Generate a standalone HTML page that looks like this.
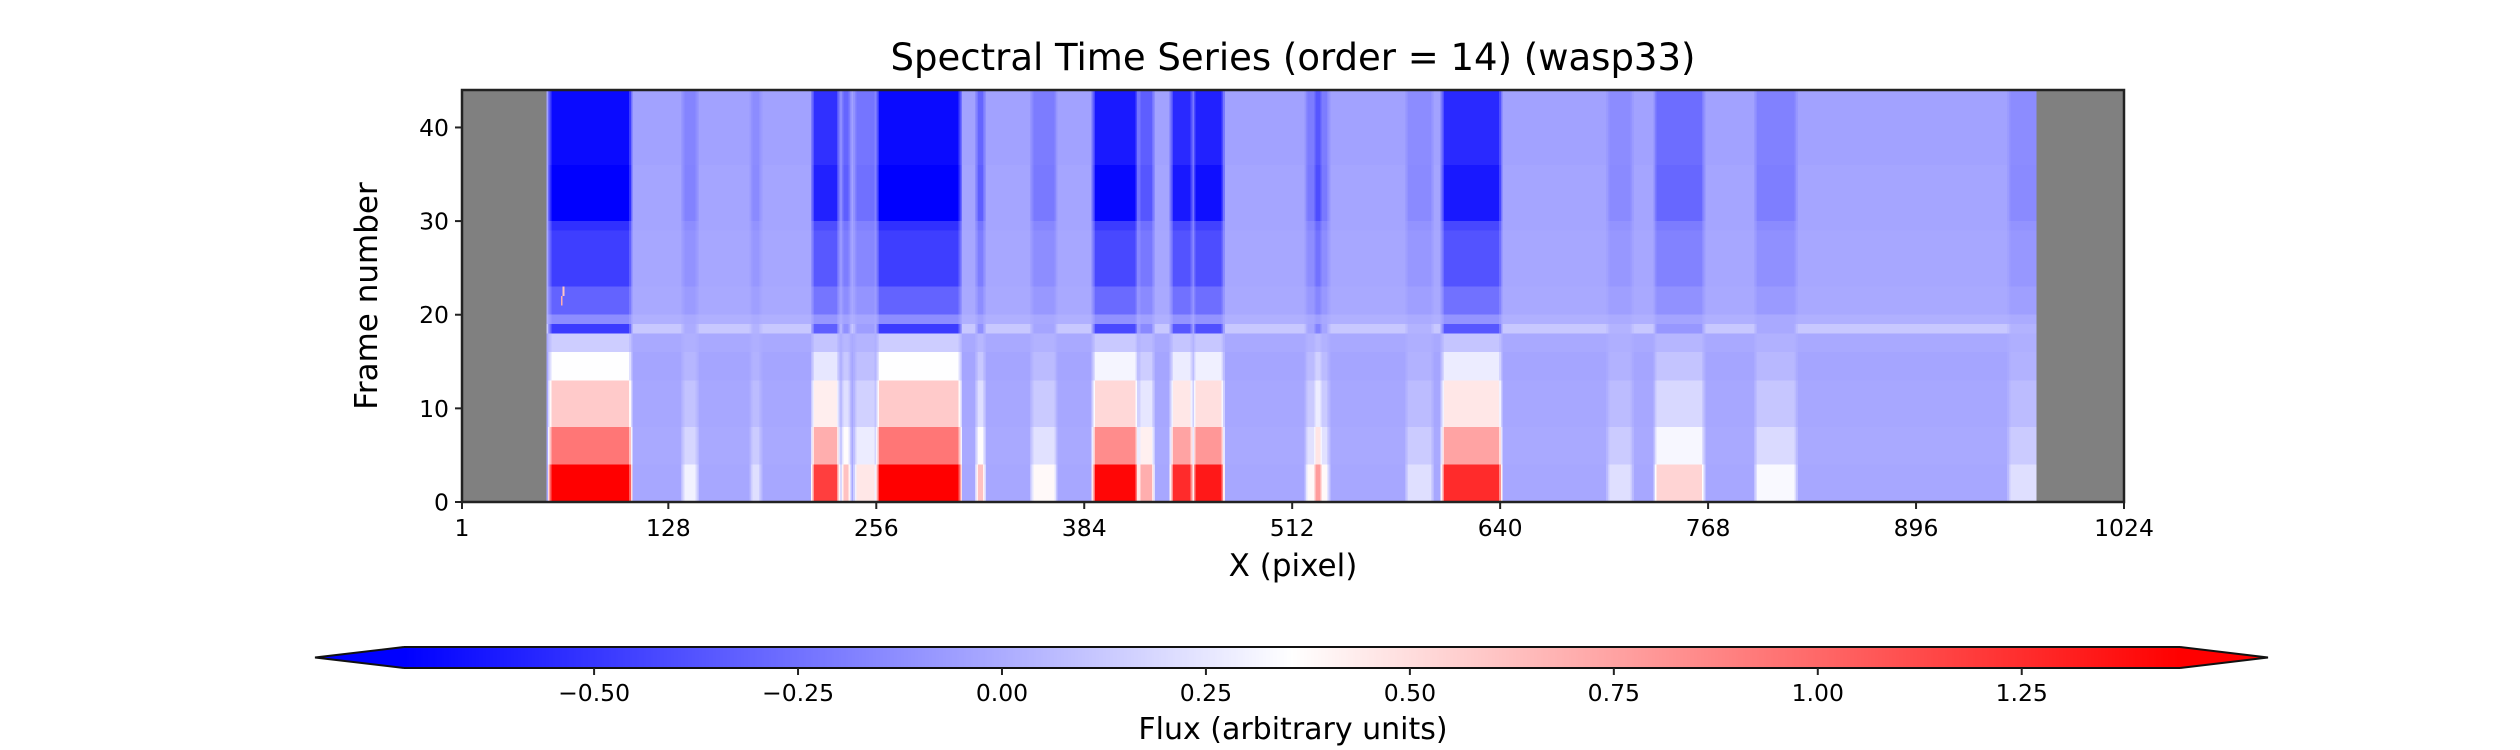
<!DOCTYPE html>
<html><head><meta charset="utf-8">
<style>
html,body{margin:0;padding:0;background:#fff;}
#wrap{position:relative;width:2520px;height:750px;overflow:hidden;font-family:"DejaVu Sans","Liberation Sans",sans-serif;}
svg{position:absolute;left:0;top:0;}
</style></head>
<body>
<div id="wrap">
<canvas id="hm" width="1024" height="44" style="position:absolute;left:462px;top:90px;width:1662px;height:412px;image-rendering:pixelated;"></canvas>
<canvas id="cb" width="1776" height="1" style="position:absolute;left:404px;top:647px;width:1776px;height:21px;"></canvas>
<svg id="ov" width="2520" height="750"></svg>
</div>
<script>
// ---- data ----
const vmin = -0.733, vmax = 1.444;
const frames = 44;
const dataStart = 53, dataEnd = 970;
const lineStart = [56, 138, 180, 218, 236, 244, 258, 282, 319, 353, 391, 419, 439, 453, 522, 527, 584, 606, 708, 737, 799, 955];
const lineEnd   = [103,144, 183, 231, 238, 254, 281, 306, 321, 365, 415, 425, 449, 468, 533, 529, 597, 639, 720, 764, 821, 970];
const lineDepth = [1.0,0.2, 0.15,0.75,0.4, 0.3, 1.0, 1.0, 0.4, 0.25,0.9, 0.45,0.8, 0.85,0.25,0.5, 0.15,0.8, 0.15,0.35,0.22,0.15];
const rowAmp = [1.6,1.6,1.6,1.6,0.95,0.95,0.95,0.95,0.6,0.6,0.6,0.6,0.6,0.38,0.38,0.38,0.15,0.15,-0.6,-0.15,-0.3,-0.3,-0.3,-0.45,-0.45,-0.45,-0.45,-0.45,-0.45,-0.5,-0.75,-0.75,-0.75,-0.75,-0.75,-0.75,-0.65,-0.65,-0.65,-0.65,-0.65,-0.65,-0.65,-0.65];
const rowBg  = [-0.02,-0.02,-0.02,-0.02,-0.01,-0.01,-0.01,-0.01,-0.02,-0.02,-0.02,-0.02,-0.02,-0.03,-0.03,-0.03,-0.01,-0.01,0.12,0.02,-0.01,-0.01,-0.01,-0.02,-0.02,-0.02,-0.02,-0.02,-0.02,-0.03,-0.03,-0.03,-0.03,-0.03,-0.03,-0.03,-0.04,-0.04,-0.04,-0.04,-0.04,-0.04,-0.04,-0.04];
const spotPix = [62, 63];
const spotFrame = [21, 22];
const spotVal = [0.7, 0.6];
const xTicks = [1, 128, 256, 384, 512, 640, 768, 896, 1024];
const yTicks = [0, 10, 20, 30, 40];
const cbTicks = [-0.5, -0.25, 0, 0.25, 0.5, 0.75, 1.0, 1.25];

const axL = 462, axR = 2124, axT = 90, axB = 502;
const xs = p => axL + (p - 1) / 1023 * (axR - axL);
const ys = f => axB - f / 44 * (axB - axT);
const cbL = 404, cbR = 2180;
const cs = v => cbL + (v - vmin) / (vmax - vmin) * (cbR - cbL);

function bwr(v) {
  let t = (v - vmin) / (vmax - vmin);
  t = Math.max(0, Math.min(1, t));
  if (t < 0.5) { const c = Math.round(2 * t * 255); return [c, c, 255]; }
  const c = Math.round((2 - 2 * t) * 255); return [255, c, c];
}

const depth = new Array(1025).fill(0);
for (let i = 0; i < lineStart.length; i++) {
  for (let p = lineStart[i] - 2; p <= lineEnd[i] + 2; p++) {
    let w = 1;
    if (p < lineStart[i]) w = 1 - (lineStart[i] - p) / 3;
    if (p > lineEnd[i]) w = 1 - (p - lineEnd[i]) / 3;
    depth[p] = Math.max(depth[p], lineDepth[i] * w);
  }
}

const hm = document.getElementById('hm').getContext('2d');
const img = hm.createImageData(1024, 44);
for (let f = 0; f < frames; f++) {
  const row = 43 - f;
  for (let p = 1; p <= 1024; p++) {
    let rgb;
    if (p < dataStart || p > dataEnd) rgb = [128, 128, 128];
    else {
      let v = rowBg[f] + depth[p] * rowAmp[f];
      for (let s = 0; s < spotPix.length; s++) if (spotPix[s] === p && spotFrame[s] === f) v = spotVal[s];
      rgb = bwr(v);
    }
    const k = (row * 1024 + (p - 1)) * 4;
    img.data[k] = rgb[0]; img.data[k + 1] = rgb[1]; img.data[k + 2] = rgb[2]; img.data[k + 3] = 255;
  }
}
hm.putImageData(img, 0, 0);

const cb = document.getElementById('cb').getContext('2d');
const cimg = cb.createImageData(1776, 1);
for (let i = 0; i < 1776; i++) {
  const rgb = bwr(vmin + (i + 0.5) / 1776 * (vmax - vmin));
  cimg.data[i * 4] = rgb[0]; cimg.data[i * 4 + 1] = rgb[1]; cimg.data[i * 4 + 2] = rgb[2]; cimg.data[i * 4 + 3] = 255;
}
cb.putImageData(cimg, 0, 0);

const NS = 'http://www.w3.org/2000/svg';
const ov = document.getElementById('ov');
function mk(tag, attrs, text) {
  const e = document.createElementNS(NS, tag);
  for (const k in attrs) e.setAttribute(k, attrs[k]);
  if (text !== undefined) e.textContent = text;
  ov.appendChild(e);
  return e;
}
let e;
e = mk('rect', {x: axL, y: axT, width: axR - axL, height: axB - axT, fill: 'none', stroke: '#222', 'stroke-width': 2.5});



xTicks.forEach(t => {
  const x = xs(t);
  e = mk('line', {x1: x, x2: x, y1: axB, y2: axB + 7, stroke: '#222', 'stroke-width': 2});
  
  
  e = mk('text', {x: x, y: 536, 'font-size': 23.5, 'text-anchor': 'middle', fill: '#000'}, String(t));
  
  
});
yTicks.forEach(t => {
  const y = ys(t);
  e = mk('line', {x1: axL - 7, x2: axL, y1: y, y2: y, stroke: '#222', 'stroke-width': 2});
  
  
  e = mk('text', {x: axL - 13, y: y + 8.5, 'font-size': 23.5, 'text-anchor': 'end', fill: '#000'}, String(t));
  
  
});
e = mk('text', {x: 1293, y: 70, 'font-size': 37, 'text-anchor': 'middle', fill: '#000'}, 'Spectral Time Series (order = 14) (wasp33)');


e = mk('text', {x: 1293, y: 576, 'font-size': 31, 'text-anchor': 'middle', fill: '#000'}, 'X (pixel)');


e = mk('text', {x: 0, y: 0, 'font-size': 31, 'text-anchor': 'middle', fill: '#000', transform: 'translate(377,296) rotate(-90)'}, 'Frame number');



e = mk('path', {d: `M${cbL},647 L315,657.5 L${cbL},668`, fill: 'rgb(0,0,255)', stroke: '#111', 'stroke-width': 2});


e = mk('path', {d: `M${cbR},647 L2268,657.5 L${cbR},668`, fill: 'rgb(255,0,0)', stroke: '#111', 'stroke-width': 2});


e = mk('line', {x1: cbL, x2: cbR, y1: 647, y2: 647, stroke: '#111', 'stroke-width': 2});


e = mk('line', {x1: cbL, x2: cbR, y1: 668, y2: 668, stroke: '#111', 'stroke-width': 2});


cbTicks.forEach(t => {
  const x = cs(t);
  e = mk('line', {x1: x, x2: x, y1: 668, y2: 675, stroke: '#222', 'stroke-width': 2});
  
  
  e = mk('text', {x: x, y: 701, 'font-size': 23.5, 'text-anchor': 'middle', fill: '#000'}, (t < 0 ? '\u2212' : '') + Math.abs(t).toFixed(2));
  
  
});
e = mk('text', {x: 1293, y: 739, 'font-size': 30, 'text-anchor': 'middle', fill: '#000'}, 'Flux (arbitrary units)');


</script>
</body></html>
